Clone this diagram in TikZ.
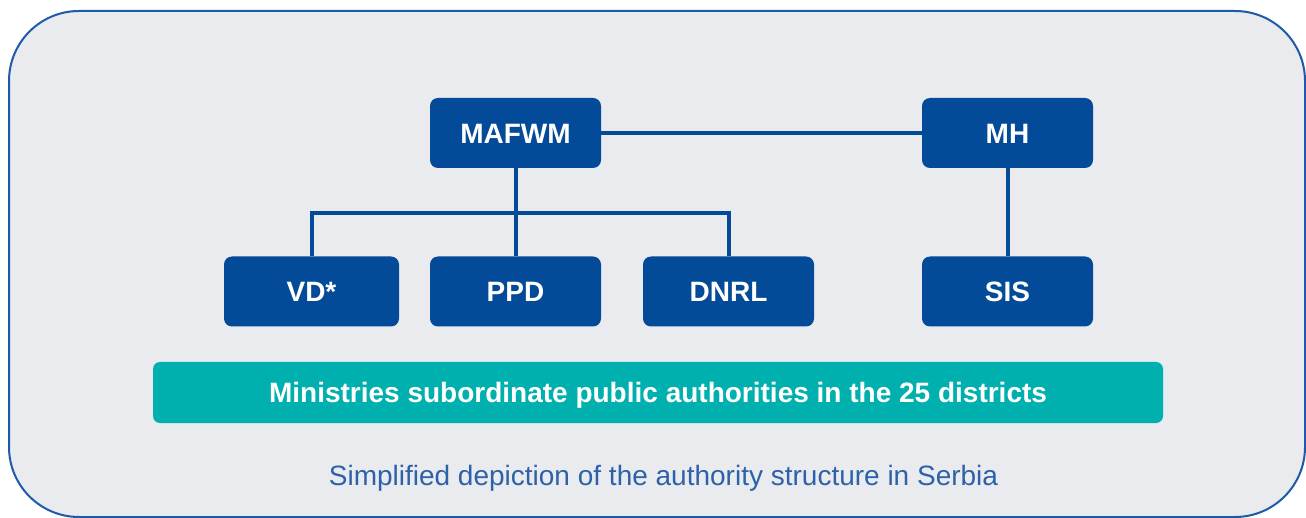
\documentclass[tikz,border=0pt]{standalone}
\usepackage{fontspec}
\setmainfont{Liberation Sans}
\definecolor{bgcol}{HTML}{E9EBEF}
\definecolor{framecol}{HTML}{1F5AA8}
\definecolor{boxcol}{HTML}{034B98}
\definecolor{tealcol}{HTML}{00B0AE}
\definecolor{capcol}{HTML}{2D62A8}
\tikzset{
  orgbox/.style={draw=none, fill=boxcol, rounded corners=8pt, minimum width=171pt, minimum height=70pt,
    inner sep=0pt, text height=20.1pt, text depth=0pt, text=white, font=\fontsize{28}{32}\selectfont\bfseries},
  link/.style={draw=boxcol, line width=4pt, line join=miter},
  bar/.style={fill=tealcol, rounded corners=7pt, minimum width=1010pt, minimum height=61pt, inner sep=0pt,
    text height=20.1pt, text depth=0pt, text=white, font=\fontsize{28}{32}\selectfont\bfseries},
  captxt/.style={text=capcol, font=\fontsize{28}{32}\selectfont, inner sep=0pt}
}
\begin{document}
\begin{tikzpicture}[x=1pt,y=-1pt]
\useasboundingbox (0,0) rectangle (1306,518);
\fill[white] (0,0) rectangle (1306,518);
\draw[fill=bgcol, draw=framecol, line width=2pt, rounded corners=70pt] (9,11) rectangle (1305,517);

\node[orgbox] (MAFWM) at (515.5,133) {MAFWM};
\node[orgbox] (MH) at (1007.5,133) {MH};
\node[orgbox, minimum width=175pt] (VD) at (311.5,291.5) {VD*};
\node[orgbox] (PPD) at (515.5,291.5) {PPD};
\node[orgbox] (DNRL) at (728.5,291.5) {DNRL};
\node[orgbox] (SIS) at (1007.5,291.5) {SIS};

\coordinate (branch) at (0,213);
\draw[link] (MAFWM.east) -- (MH.west);
\draw[link] (MAFWM.south) -- (PPD.north);
\draw[link] (VD.north) -- (VD.north |- branch) -- (DNRL.north |- branch) -- (DNRL.north);
\draw[link] (MH.south) -- (SIS.north);

\node[bar] (districts) at (658,392.5) {Ministries subordinate public authorities in the 25 districts};
\node[captxt, anchor=base] (caption) at (663.5,485.5) {Simplified depiction of the authority structure in Serbia};
\end{tikzpicture}
\end{document}
